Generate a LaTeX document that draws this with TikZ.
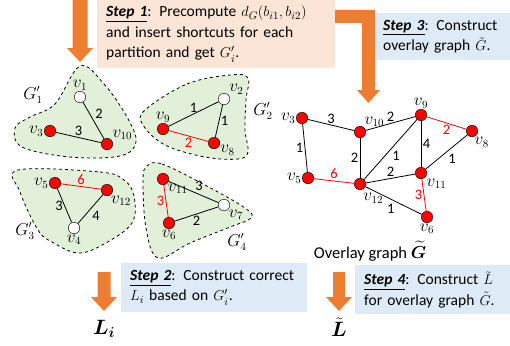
\documentclass[tikz,border=0pt]{standalone}
\usepackage{fontspec}
\setmainfont{Carlito}
\usepackage{amsmath}
\usepackage{bm}
\usepackage{xcolor}
\definecolor{arrorange}{HTML}{ED7D31}
\definecolor{boxpeach}{HTML}{FBE5D6}
\definecolor{boxblue}{HTML}{DEEBF7}
\definecolor{blobgreen}{HTML}{E2F0D9}
\newcommand{\stepname}[1]{\underline{\textbf{\textit{#1}}}}

\begin{document}
\begin{tikzpicture}[x=1pt,y=-1pt,
    vred/.style={circle, draw=black, fill=red, minimum size=11.5pt, inner sep=0pt},
    vwhite/.style={circle, draw=black, fill=white, minimum size=11.5pt, inner sep=0pt},
    vl/.style={font=\fontsize{16}{18}\selectfont, inner sep=0.5pt},
    wt/.style={font=\fontsize{14.5}{16}\selectfont, inner sep=1.5pt},
    wr/.style={wt, text=red},
    blob/.style={draw=black, dashed, fill=blobgreen, thick},
    stepbox/.style={anchor=north west, align=left, inner xsep=9pt,
      font=\fontsize{15.5}{20.5}\selectfont},
    bigarrow/.style={fill=arrorange, draw=none}]
  \useasboundingbox (0,0) rectangle (510,345);

  % orange arrows
  \fill[bigarrow] (72.5,0) -- (87.5,0) -- (87.5,48) -- (93,48) -- (80,62)
    -- (67,48) -- (72.5,48) -- cycle;
  \fill[bigarrow] (330,10) -- (375,10) -- (375,90) -- (380,90) -- (368.5,103)
    -- (357,90) -- (362,90) -- (362,23) -- (330,23) -- cycle;
  \fill[bigarrow] (97.5,272) -- (110.5,272) -- (110.5,297) -- (117,297) -- (104,311)
    -- (91,297) -- (97.5,297) -- cycle;
  \fill[bigarrow] (333,272) -- (345,272) -- (345,297) -- (352,297) -- (339,311)
    -- (326,297) -- (333,297) -- cycle;

  % step boxes
  \node[stepbox, fill=boxpeach, minimum width=236pt, minimum height=68pt,
    text width=220pt, name=step1] at (97,0)
    {\stepname{Step 1}: Precompute $d_G(b_{i1},b_{i2})$\\
     and insert shortcuts for each\\ partition and get $G_i'$.};
  \node[stepbox, fill=boxblue, minimum width=135pt, minimum height=47pt,
    text width=124pt, inner xsep=8pt, name=step3] at (375,13)
    {\stepname{Step 3}: Construct\\ overlay graph $\tilde{G}$.};
  \node[stepbox, fill=boxblue, minimum width=183pt, minimum height=49pt,
    text width=168pt, name=step2] at (121,263)
    {\stepname{Step 2}: Construct correct\\ $L_i$ based on $G_i'$.};
  \node[stepbox, fill=boxblue, minimum width=155pt, minimum height=49pt,
    text width=140pt, name=step4] at (355,265)
    {\stepname{Step 4}: Construct $\tilde{L}$\\ for overlay graph $\tilde{G}$.};

  % partitions
  \draw[blob] plot[smooth cycle, tension=0.6] coordinates {(80,66) (104,84)
    (127,117) (136,142) (120,156) (70,157) (22,147) (15,128) (30,117) (55,104)};
  \draw[blob] plot[smooth cycle, tension=0.6] coordinates {(145,110) (187,84)
    (230,75) (248,78) (246,100) (245,130) (248,152) (238,159) (205,157)
    (165,145) (143,125)};
  \draw[blob] plot[smooth cycle, tension=0.6] coordinates {(18,170) (100,172)
    (124,180) (134,196) (132,223) (104,244) (78,253) (52,242) (38,230) (20,192)};
  \draw[blob] plot[smooth cycle, tension=0.6] coordinates {(147,166) (162,164)
    (205,185) (245,208) (251,218) (230,227) (190,243) (158,258) (146,228)
    (143,180)};

  \node[vl, name=g1] at (33,95) {$G_1'$};
  \node[vl, name=g2] at (263,111) {$G_2'$};
  \node[vl, name=g3] at (25,231) {$G_3'$};
  \node[vl, name=g4] at (237,242) {$G_4'$};

  % G1'
  \node[vwhite, name=a1, label={[vl]above:$v_1$}] at (80,97) {};
  \node[vred, name=a3, label={[vl]left:$v_3$}] at (50,131) {};
  \node[vred, name=a10, label={[vl]36:$v_{10}$}] at (107,144) {};
  \path[-, thick]
     (a1) edge node[wt, above right] {2} (a10)
     (a3) edge node[wt, above] {3} (a10);

  % G2'
  \node[vwhite, name=b2, label={[vl]40:$v_2$}] at (224,99) {};
  \node[vred, name=b9, label={[vl]above:$v_9$}] at (163,129) {};
  \node[vred, name=b8, label={[vl]-15:$v_8$}] at (214,143) {};
  \path[-, thick]
     (b9) edge node[wt, above] {1} (b2)
     (b2) edge node[wt, right] {1} (b8);
  \path[-, thick, red]
     (b9) edge node[wr, below] {2} (b8);

  % G3'
  \node[vred, name=c5, label={[vl]left:$v_5$}] at (55,183) {};
  \node[vred, name=c12, label={[vl]-55:$v_{12}$}] at (107,190) {};
  \node[vwhite, name=c4, label={[vl]below:$v_4$}] at (74,228) {};
  \path[-, thick]
     (c5) edge node[wt, left] {3} (c4)
     (c4) edge node[wt, below right] {4} (c12);
  \path[-, thick, red]
     (c5) edge node[wr, above] {6} (c12);

  % G4'
  \node[vred, name=d11, label={[vl]-45:$v_{11}$}] at (163,179) {};
  \node[vwhite, name=d7, label={[vl]-45:$v_7$}] at (224,205) {};
  \node[vred, name=d6, label={[vl]below:$v_6$}] at (169,223) {};
  \path[-, thick]
     (d11) edge node[wt, above right] {3} (d7)
     (d6) edge node[wt, below] {2} (d7);
  \path[-, thick, red]
     (d11) edge node[wr, left] {3} (d6);

  % overlay graph
  \node[vred, name=o3, label={[vl]left:$v_3$}] at (302,118) {};
  \node[vred, name=o10, label={[vl]50:$v_{10}$}] at (360,132) {};
  \node[vred, name=o9, label={[vl]above:$v_9$}] at (421,115) {};
  \node[vred, name=o8, label={[vl]-70:$v_8$}] at (472,131) {};
  \node[vred, name=o5, label={[vl]left:$v_5$}] at (308,178) {};
  \node[vred, name=o12, label={[vl, label distance=3pt]-72:$v_{12}$}] at (360,184) {};
  \node[vred, name=o11, label={[vl, label distance=1pt]-45:$v_{11}$}] at (421,173) {};
  \node[vred, name=o6, label={[vl]below:$v_6$}] at (427,217) {};
  \path[-, thick]
     (o3) edge node[wt, above] {3} (o10)
     (o10) edge node[wt, above] {2} (o9)
     (o3) edge node[wt, left] {1} (o5)
     (o10) edge node[wt, left] {2} (o12)
     (o12) edge node[wt, below right] {1} (o9)
     (o9) edge node[wt, right] {4} (o11)
     (o8) edge node[wt, below right] {1} (o11)
     (o12) edge node[wt, above] {2} (o11)
     (o12) edge node[wt, below left, pos=0.55] {1} (o6);
  \path[-, thick, red]
     (o9) edge node[wr, below] {2} (o8)
     (o5) edge node[wr, above] {6} (o12)
     (o11) edge node[wr, left] {3} (o6);

  \node[font=\fontsize{16.5}{18}\selectfont, name=ovl] at (370,251)
    {Overlay graph $\widetilde{\bm{G}}$};

  % results
  \node[font=\fontsize{20}{22}\selectfont, name=li] at (104,329) {$\bm{L_i}$};
  \node[font=\fontsize{20}{22}\selectfont, name=lt] at (339,327) {$\tilde{\bm{L}}$};
\end{tikzpicture}
\end{document}
